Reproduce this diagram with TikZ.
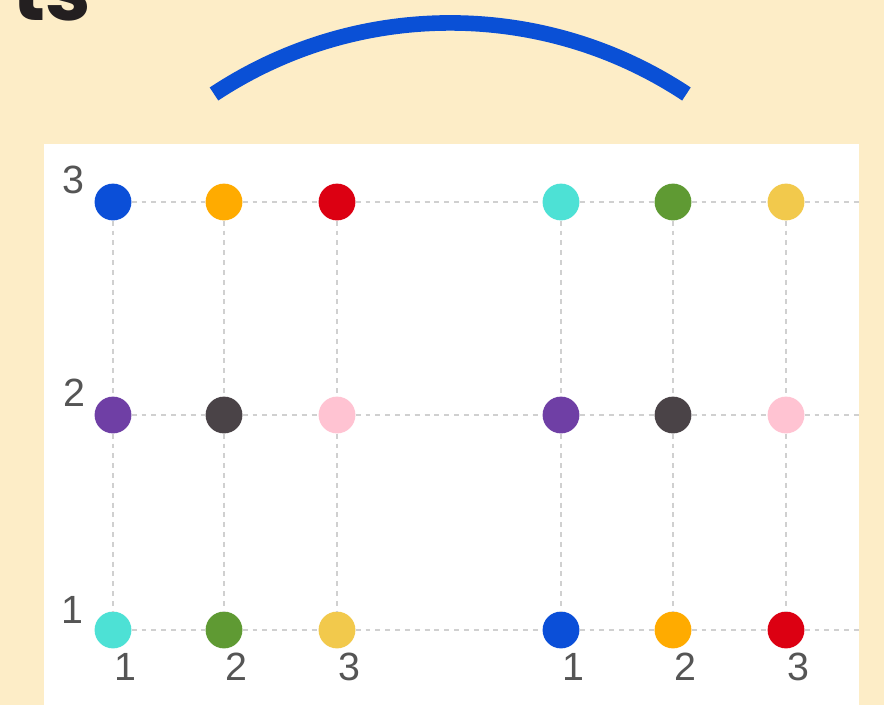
\documentclass[tikz,border=0pt]{standalone}
\usepackage{fontspec}
\newfontfamily\headfont{Poppins}
\newfontfamily\axisfont{Liberation Sans}

\definecolor{cream}{HTML}{FDEDC7}
\definecolor{ink}{HTML}{231F20}
\definecolor{arcblue}{HTML}{0A50D6}
\definecolor{gridgray}{HTML}{D0D0D0}
\definecolor{tickgray}{HTML}{555555}
\definecolor{cblue}{HTML}{0B4FD8}
\definecolor{corange}{HTML}{FFAB00}
\definecolor{cred}{HTML}{DC0012}
\definecolor{ccyan}{HTML}{4DE1D5}
\definecolor{cgreen}{HTML}{5F9A33}
\definecolor{cyellow}{HTML}{F2C94C}
\definecolor{cpurple}{HTML}{6F3FA5}
\definecolor{cdark}{HTML}{4A4347}
\definecolor{cpink}{HTML}{FFC3D2}

\begin{document}
\begin{tikzpicture}[
    x=0.025cm, y=-0.025cm,
    dot/.style={circle, inner sep=0pt, minimum size=0.92cm},
    grid/.style={draw=gridgray, line width=1.8pt, dash pattern=on 3.5pt off 3.5pt},
    tick/.style={font=\axisfont\fontsize{28}{30}\selectfont, text=tickgray, inner sep=0pt}
  ]
    \useasboundingbox (0,0) rectangle (884,705);
    \clip (0,0) rectangle (884,705);
    \fill[cream] (0,0) rectangle (884,705);

    % cut-off heading and the arc above the chart
    \node[font=\headfont\bfseries\fontsize{58}{60}\selectfont, text=ink,
      anchor=base west, inner sep=0pt] (head) at (12,20) {ts};
    \coordinate (arcL) at (214,94);
    \draw[arcblue, line width=0.39cm] (arcL)
      arc[start angle=-123.5, end angle=-56.5, radius=428];

    % chart panel
    \fill[white] (44,144) rectangle (859,710);
    \coordinate (redge) at (859,0);

    % top row
    \node[dot, fill=cblue]   (r3c1) at (113,202) {};
    \node[dot, fill=corange] (r3c2) at (224,202) {};
    \node[dot, fill=cred]    (r3c3) at (337,202) {};
    \node[dot, fill=ccyan]   (r3c4) at (561,202) {};
    \node[dot, fill=cgreen]  (r3c5) at (673,202) {};
    \node[dot, fill=cyellow] (r3c6) at (786,202) {};
    % middle row
    \node[dot, fill=cpurple] (r2c1) at (113,415) {};
    \node[dot, fill=cdark]   (r2c2) at (224,415) {};
    \node[dot, fill=cpink]   (r2c3) at (337,415) {};
    \node[dot, fill=cpurple] (r2c4) at (561,415) {};
    \node[dot, fill=cdark]   (r2c5) at (673,415) {};
    \node[dot, fill=cpink]   (r2c6) at (786,415) {};
    % bottom row
    \node[dot, fill=ccyan]   (r1c1) at (113,630) {};
    \node[dot, fill=cgreen]  (r1c2) at (224,630) {};
    \node[dot, fill=cyellow] (r1c3) at (337,630) {};
    \node[dot, fill=cblue]   (r1c4) at (561,630) {};
    \node[dot, fill=corange] (r1c5) at (673,630) {};
    \node[dot, fill=cred]    (r1c6) at (786,630) {};

    % dashed grid, row lines
    \draw[grid] (r3c1) -- (r3c2) (r3c2) -- (r3c3) (r3c3) -- (r3c4)
      (r3c4) -- (r3c5) (r3c5) -- (r3c6) (r3c6) -- (r3c6 -| redge);
    \draw[grid] (r2c1) -- (r2c2) (r2c2) -- (r2c3) (r2c3) -- (r2c4)
      (r2c4) -- (r2c5) (r2c5) -- (r2c6) (r2c6) -- (r2c6 -| redge);
    \draw[grid] (r1c1) -- (r1c2) (r1c2) -- (r1c3) (r1c3) -- (r1c4)
      (r1c4) -- (r1c5) (r1c5) -- (r1c6) (r1c6) -- (r1c6 -| redge);
    % column lines
    \draw[grid] (r3c1) -- (r2c1) (r2c1) -- (r1c1);
    \draw[grid] (r3c2) -- (r2c2) (r2c2) -- (r1c2);
    \draw[grid] (r3c3) -- (r2c3) (r2c3) -- (r1c3);
    \draw[grid] (r3c4) -- (r2c4) (r2c4) -- (r1c4);
    \draw[grid] (r3c5) -- (r2c5) (r2c5) -- (r1c5);
    \draw[grid] (r3c6) -- (r2c6) (r2c6) -- (r1c6);

    % axis numbers
    \node[tick] (y3) at (73,180) {3};
    \node[tick] (y2) at (74,393) {2};
    \node[tick] (y1) at (72,610) {1};
    \node[tick] (x1) at (125,667) {1};
    \node[tick] (x2) at (236,667) {2};
    \node[tick] (x3) at (349,667) {3};
    \node[tick] (x4) at (573,667) {1};
    \node[tick] (x5) at (685,667) {2};
    \node[tick] (x6) at (798,667) {3};
  \end{tikzpicture}
\end{document}
